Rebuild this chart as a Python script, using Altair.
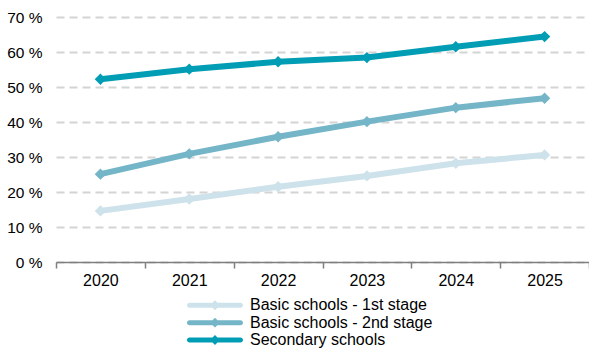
import altair as alt
import pandas as pd

TITLE = "Schools using tablets for the e-learning classes"
YEARS = ["2020", "2021", "2022", "2023", "2024", "2025"]
SERIES = ["Basic schools - 1st stage", "Basic schools - 2nd stage", "Secondary schools"]
BASIC_1 = [14.6, 18.0, 21.5, 24.6, 28.2, 30.6]
BASIC_2 = [25.1, 30.9, 35.8, 40.1, 44.1, 46.8]
SECONDARY = [52.2, 55.1, 57.2, 58.4, 61.5, 64.4]
COLORS = ["#cde2eb", "#74b5c8", "#009db5"]
Y_TICKS = [0, 10, 20, 30, 40, 50, 60, 70]

rows = []
for name, vals in zip(SERIES, [BASIC_1, BASIC_2, SECONDARY]):
    for yr, v in zip(YEARS, vals):
        rows.append({"year": yr, "series": name, "line": name, "value": v})
df = pd.DataFrame(rows)

FONT = "Liberation Sans"

# legend glyph: a round-capped thick line with a diamond in the middle (unit = 9 px)
LEGEND_SHAPE = (
    "M-2.83,-0.28L2.83,-0.28A0.28,0.28 0 0 1 2.83,0.28L-2.83,0.28"
    "A0.28,0.28 0 0 1 -2.83,-0.28Z"
    "M0,-0.55L0.55,0L0,0.55L-0.55,0Z"
)

stroke = alt.Stroke("line:N", sort=SERIES,
                    scale=alt.Scale(domain=SERIES, range=COLORS), legend=None)
fill = alt.Fill(
    "series:N",
    sort=SERIES,
    scale=alt.Scale(domain=SERIES, range=COLORS),
    legend=alt.Legend(
        title=None,
        orient="none",
        legendX=150,
        legendY=279.3,
        direction="vertical",
        symbolType=LEGEND_SHAPE,
        symbolSize=324,
        symbolStrokeWidth=0,
        symbolOpacity=1,
        labelFontSize=16,
        labelFont=FONT,
        labelColor="#000000",
        labelOffset=26,
        rowPadding=0.35,
        labelLimit=400,
    ),
)

x = alt.X(
    "year:O",
    sort=YEARS,
    scale=alt.Scale(type="band", paddingInner=0, paddingOuter=0),
    axis=alt.Axis(
        title=None,
        labelAngle=0,
        labelFontSize=16,
        labelFont=FONT,
        labelColor="#000000",
        labelPadding=4,
        tickBand="extent",
        tickSize=6,
        tickColor="#7f7f7f",
        tickWidth=1.5,
        domainColor="#7f7f7f",
        domainWidth=1.5,
        grid=False,
    ),
)

y = alt.Y(
    "value:Q",
    scale=alt.Scale(domain=[0, 70], nice=False),
    axis=alt.Axis(
        title=None,
        values=Y_TICKS,
        labelExpr="datum.value + ' %'",
        labelFontSize=15.5,
        labelFont=FONT,
        labelColor="#000000",
        labelPadding=14,
        ticks=False,
        tickSize=0,
        domain=False,
        grid=True,
        gridColor="#d4d4d4",
        gridWidth=2,
        gridDash=[8, 5],
    ),
)

base = alt.Chart(df)
lines = base.mark_line(strokeWidth=6).encode(x=x, y=y, stroke=stroke)
points = base.mark_point(shape="diamond", filled=True, size=130, opacity=1).encode(
    x=x, y=y, fill=fill
)

title = alt.Chart(pd.DataFrame({"t": [TITLE]})).mark_text(
    align="left", baseline="alphabetic", fontSize=15, fontWeight="bold", font=FONT, color="#000000"
).encode(text="t:N", x=alt.value(-56), y=alt.value(-21))

chart = (
    alt.layer(lines, points, title)
    .resolve_legend(fill="independent", stroke="independent")
    .properties(
        width=533,
        height=245,
        autosize=alt.AutoSizeParams(type="none"),
        padding={"left": 56, "top": 17, "right": 0, "bottom": 86},
    )
    .configure_view(stroke=None)
)

chart.save("out.html", embed_options={"renderer": "svg", "actions": False})
